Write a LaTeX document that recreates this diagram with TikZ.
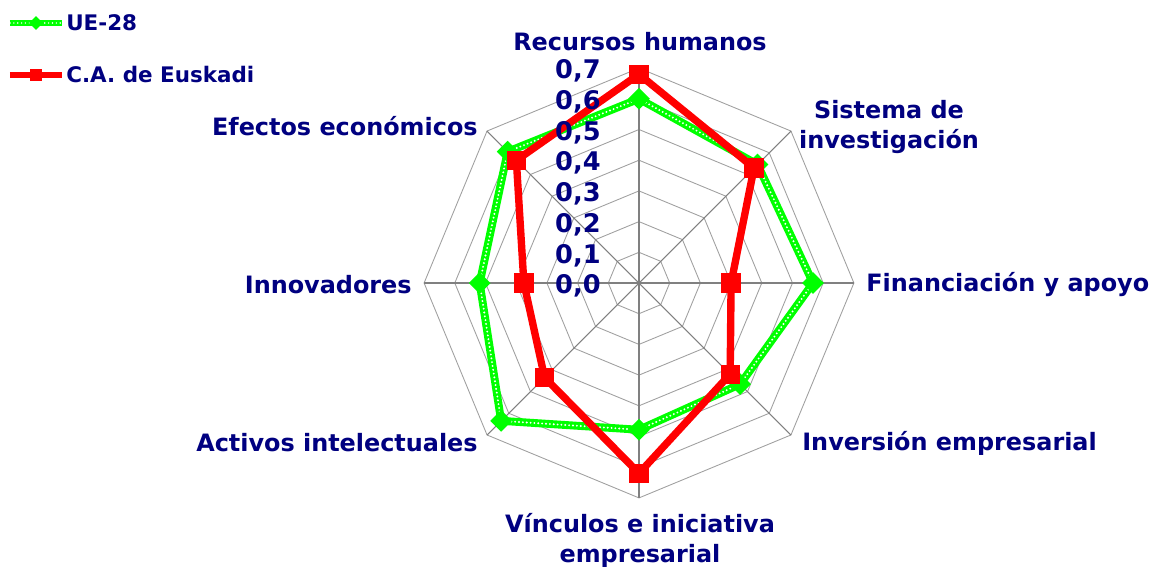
\documentclass[tikz,border=0pt]{standalone}
\usepackage{fontspec}
\usetikzlibrary{shapes.geometric}
\setmainfont{DejaVu Sans}
\definecolor{navytxt}{RGB}{0,0,128}
\definecolor{limeue}{RGB}{0,255,0}
\definecolor{ringgray}{RGB}{160,160,160}
\definecolor{spokegray}{RGB}{128,128,128}
\begin{document}
\begin{tikzpicture}[x=0.02cm, y=0.02cm,
    ring/.style={draw=ringgray, line width=0.5pt},
    spoke/.style={draw=spokegray, line width=0.6pt},
    catlabel/.style={text=navytxt, font=\fontsize{13.6}{17}\selectfont\bfseries, inner sep=0pt, align=center},
    legtext/.style={text=navytxt, font=\fontsize{12.2}{15}\selectfont\bfseries, inner sep=0pt, anchor=west},
    ticklabel/.style={text=navytxt, font=\fontsize{14.6}{17}\selectfont\bfseries, inner sep=0pt, anchor=east},
    ueline/.style={draw=limeue, line width=4.5pt, line join=round},
    uedots/.style={draw=white, line width=1.2pt, line cap=round, dash pattern=on 0pt off 2.2pt},
    euline/.style={draw=red, line width=4.2pt, line join=round},
    uemark/.style={diamond, fill=limeue, inner sep=0pt, minimum size=12.5pt},
    eumark/.style={rectangle, fill=red, inner sep=0pt, minimum size=11pt}]
    \def\rs{307}
    % Frame
    \useasboundingbox (-639,-283) rectangle (511,283);
    % Rings
    \foreach \k in {1,...,7} {
        \draw[ring] (90:\k*30.7) -- (45:\k*30.7) -- (0:\k*30.7) -- (-45:\k*30.7)
            -- (-90:\k*30.7) -- (-135:\k*30.7) -- (180:\k*30.7) -- (135:\k*30.7) -- cycle;
    }
    % Spokes
    \coordinate (c) at (0,0);
    \foreach \a [count=\i] in {90,45,0,-45,-90,-135,180,135} {
        \coordinate (ax\i) at (\a:215);
        \draw[spoke] (c) -- (ax\i);
    }
    % Data points
    \foreach \a/\v [count=\i] in {90/0.60,45/0.546,0/0.567,-45/0.466,-90/0.478,-135/0.635,180/0.519,135/0.605}
        \coordinate (ue\i) at (\a:\v*\rs);
    \foreach \a/\v [count=\i] in {90/0.68,45/0.53,0/0.30,-45/0.42,-90/0.62,-135/0.435,180/0.375,135/0.565}
        \coordinate (eu\i) at (\a:\v*\rs);
    % UE-28 series
    \draw[ueline] (ue1) -- (ue2) -- (ue3) -- (ue4) -- (ue5) -- (ue6) -- (ue7) -- (ue8) -- cycle;
    \draw[uedots] (ue1) -- (ue2) -- (ue3) -- (ue4) -- (ue5) -- (ue6) -- (ue7) -- (ue8) -- cycle;
    \foreach \i in {1,...,8} \node[uemark] (uem\i) at (ue\i) {};
    % Euskadi series
    \draw[euline] (eu1) -- (eu2) -- (eu3) -- (eu4) -- (eu5) -- (eu6) -- (eu7) -- (eu8) -- cycle;
    \foreach \i in {1,...,8} \node[eumark] (eum\i) at (eu\i) {};
    % Scale labels
    \foreach \k in {0,...,7} {
        \node[ticklabel] (t\k) at (-38,\k*30.7-3) {0,\k};
    }
    % Category labels
    \node[catlabel] (rh) at (1,241) {Recursos humanos};
    \node[catlabel] (si) at (250,156) {Sistema de\\investigación};
    \node[catlabel, anchor=west] (fa) at (227,-2) {Financiación y apoyo};
    \node[catlabel, anchor=west] (ie) at (163,-160) {Inversión empresarial};
    \node[catlabel] (vi) at (1,-257) {Vínculos e iniciativa\\empresarial};
    \node[catlabel, anchor=east] (ai) at (-161,-160) {Activos intelectuales};
    \node[catlabel, anchor=east] (inn) at (-227,-2) {Innovadores};
    \node[catlabel, anchor=east] (ee) at (-161,157) {Efectos económicos};
    % Legend
    \coordinate (lg1a) at (-629,260);
    \coordinate (lg1b) at (-577,260);
    \draw[draw=limeue, line width=3pt] (lg1a) -- (lg1b);
    \draw[uedots, line width=0.9pt] (lg1a) -- (lg1b);
    \node[uemark, minimum size=8pt] (lg1m) at (-603,260) {};
    \node[legtext] (lg1) at (-573,260) {UE-28};
    \coordinate (lg2a) at (-629,208);
    \coordinate (lg2b) at (-577,208);
    \draw[draw=red, line width=3pt] (lg2a) -- (lg2b);
    \node[eumark, minimum size=7pt] (lg2m) at (-603,208) {};
    \node[legtext] (lg2) at (-573,208) {C.A. de Euskadi};
\end{tikzpicture}
\end{document}
